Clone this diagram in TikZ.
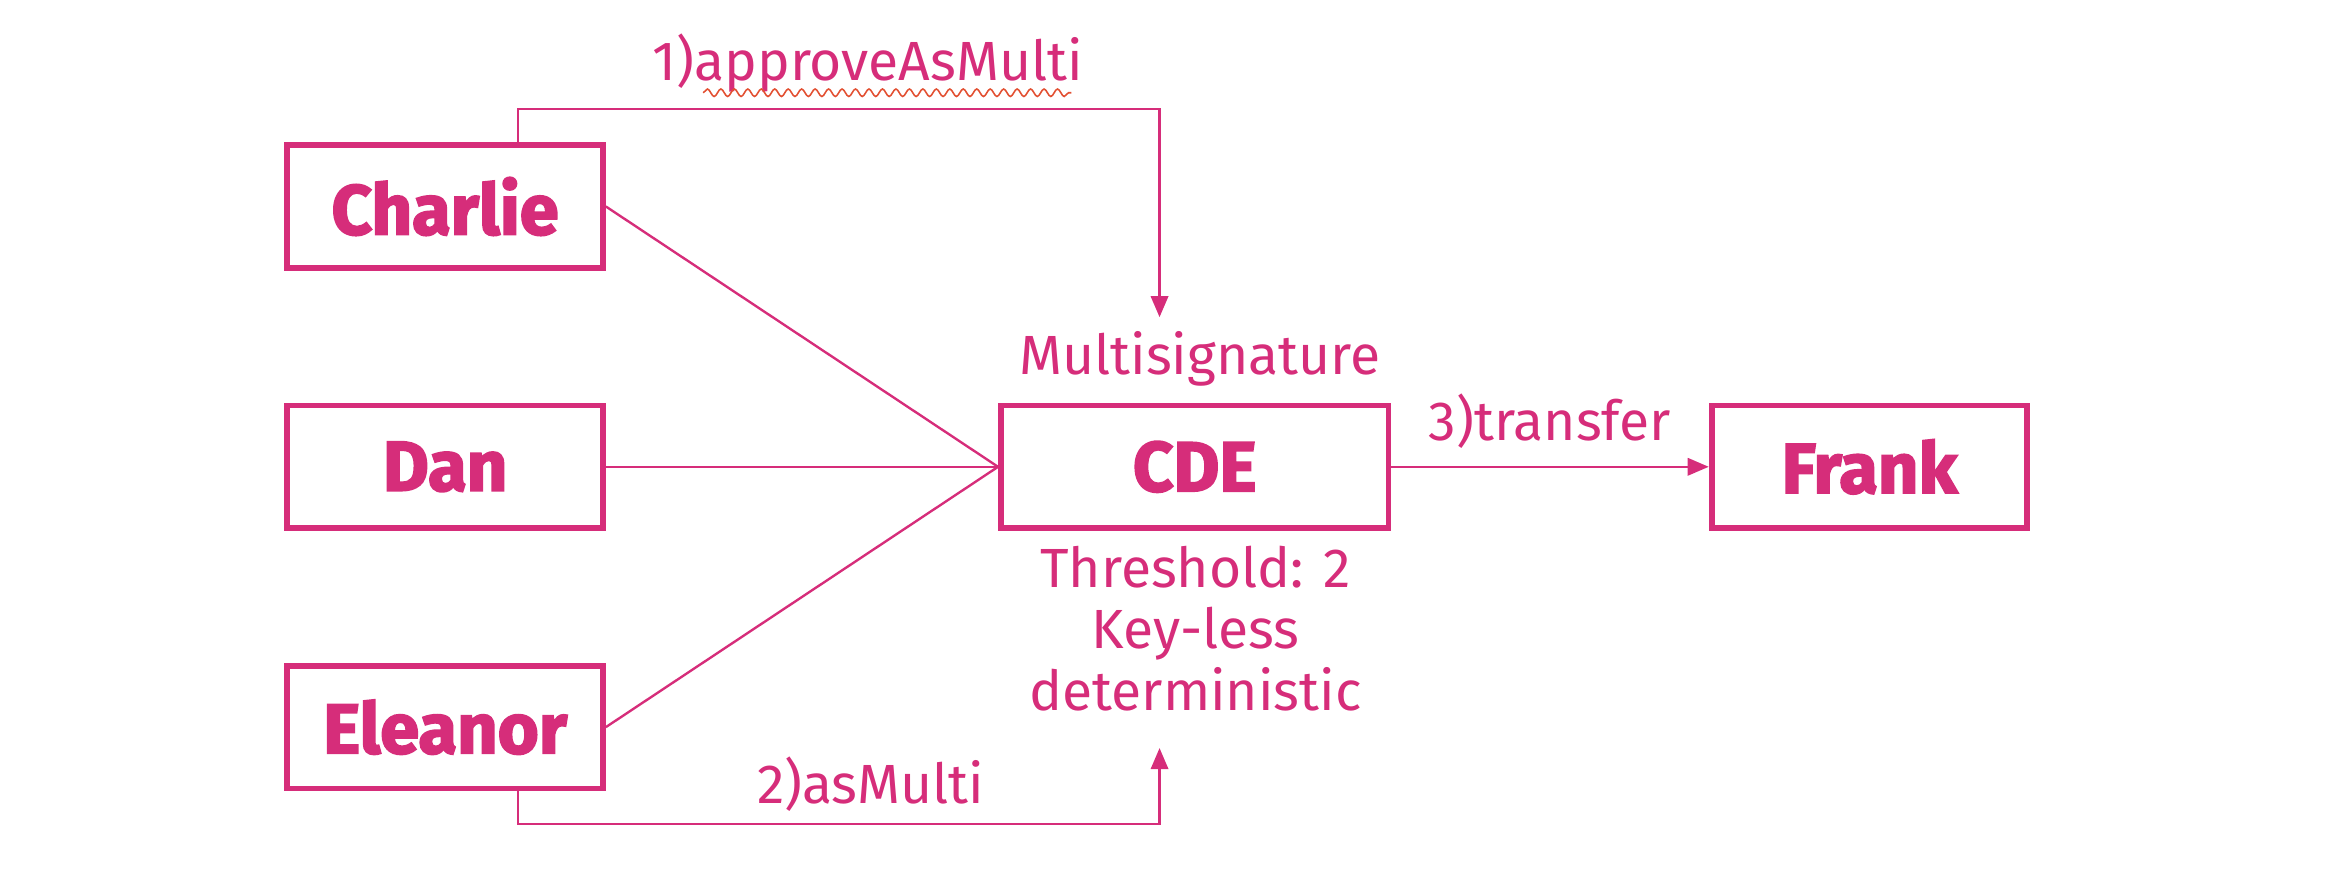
\documentclass[tikz,border=0pt]{standalone}
\usepackage{fontspec}
\usetikzlibrary{arrows.meta,decorations.pathmorphing}
\newfontfamily\lightfont{Fira Sans}
\newfontfamily\heavyfont{Fira Sans}[FakeBold=2.6]
\definecolor{accent}{RGB}{214,45,122}
\definecolor{spellred}{RGB}{226,80,50}

\begin{document}
\begin{tikzpicture}[
	every node/.style={text=accent},
	party/.style={draw=accent, line width=1.1pt, minimum width=2.11cm, minimum height=0.82cm, font=\heavyfont\bfseries\fontsize{13.4}{15}\selectfont},
	note/.style={font=\lightfont\fontsize{10.5}{11.7}\selectfont},
	link/.style={draw=accent, line width=0.45pt},
	>={Triangle[length=4pt,width=3.3pt]}]
	\useasboundingbox (0,0) rectangle (15.68,5.83);
	\node (charlie) at (2.975,4.45) [party] {Charlie};
	\node (dan) at (2.975,2.71) [party] {Dan};
	\node (eleanor) at (2.975,0.97) [party] {Eleanor};
	\node (cde) at (7.985,2.71) [party, minimum width=2.59cm] {CDE};
	\node (frank) at (12.495,2.71) [party] {Frank};

	\node (sig) at (8.02,3.43) [note] {Multisignature};
	\node (info) at (7.99,1.63) [note, align=center] {Threshold: 2\\Key-less\\deterministic};
	\node (approve) at (5.80,5.41) [note] {1)approveAsMulti};
	\node (asmulti) at (5.82,0.59) [note] {2)asMulti};

	\coordinate (sigtop) at (7.75,3.71);
	\coordinate (sigbot) at (7.75,0.83);

	\draw[link] (charlie.east) -- (cde.west);
	\draw[link] (dan.east) -- (cde.west);
	\draw[link] (eleanor.east) -- (cde.west);
	\draw[link, ->] (cde.east) -- node[note, above] {3)transfer} (frank.west);
	\draw[link, ->] ([xshift=4.85mm]charlie.north) -- ++(0,0.22) -| (sigtop);
	\draw[link, ->] ([xshift=4.85mm]eleanor.south) -- ++(0,-0.22) -| (sigbot);
	\draw[spellred, line width=0.3pt, decorate, decoration={snake, amplitude=0.25mm, segment length=0.9mm}] (4.70,5.21) -- (7.16,5.21);
\end{tikzpicture}
\end{document}
